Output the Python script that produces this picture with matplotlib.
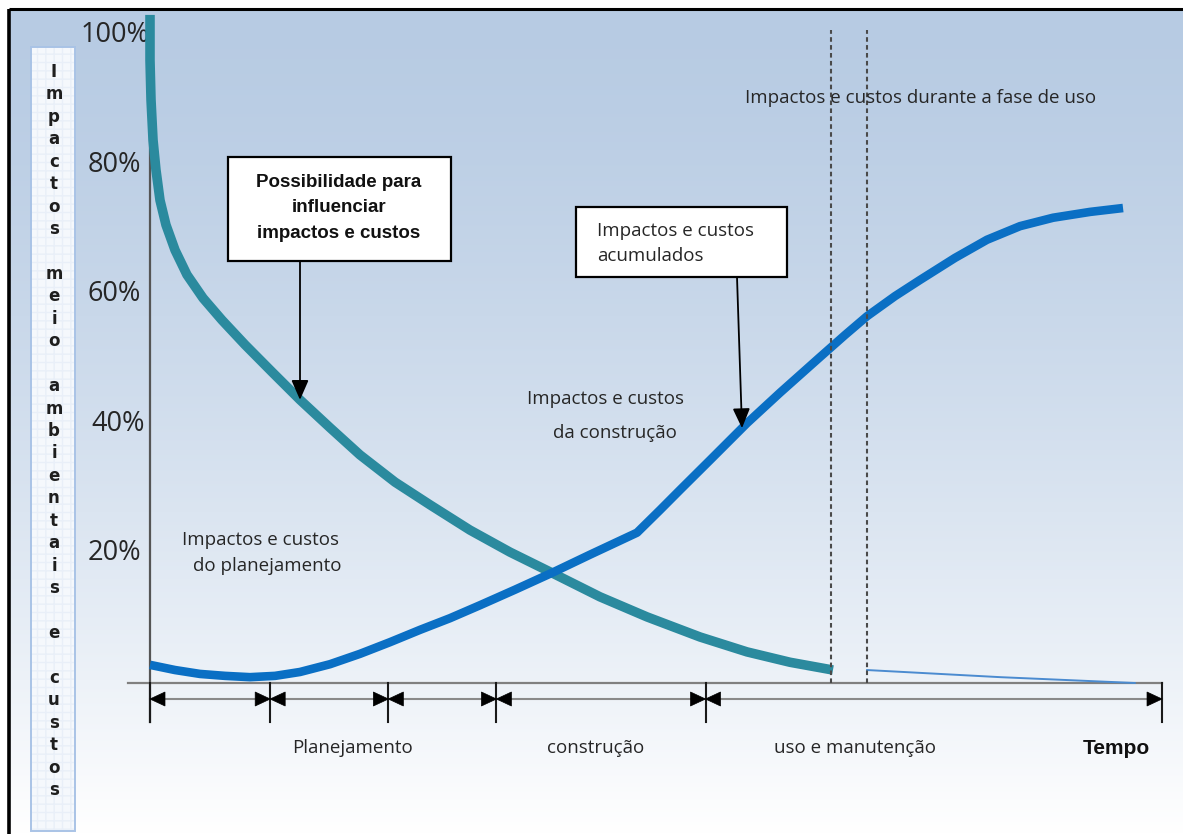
import numpy as np
import matplotlib
matplotlib.use("Agg")
import matplotlib.pyplot as plt
from matplotlib.patches import Rectangle, Polygon

# ---------------------------------------------------------------------------
# Data: time in arbitrary units (0 = start of planning), values in percent
# ---------------------------------------------------------------------------
influence_t = [0.000, 0.000, 0.010, 0.030, 0.059, 0.099, 0.158, 0.248, 0.366,
               0.525, 0.713, 0.941, 1.208, 1.485, 1.782, 2.079, 2.426, 2.772,
               3.168, 3.564, 3.980, 4.455, 4.921, 5.446, 5.911, 6.337, 6.762]
influence_pct = [103.1, 96.1, 90.0, 83.8, 79.2, 74.5, 70.7, 66.8, 63.0,
                 59.4, 56.0, 52.2, 48.0, 43.7, 39.4, 35.2, 31.0, 27.5,
                 23.6, 20.2, 17.0, 13.3, 10.2, 7.1, 4.8, 3.2, 2.0]

cumulative_t = [0.000, 0.248, 0.495, 0.743, 0.990, 1.238, 1.485, 1.782, 2.079,
                2.376, 2.673, 2.970, 3.267, 3.614, 3.980, 4.356, 4.822, 5.050,
                5.248, 5.545, 5.911, 6.238, 6.634, 6.881, 7.099, 7.376, 7.624,
                7.970, 8.287, 8.614, 8.941, 9.307, 9.634]
cumulative_pct = [2.8, 2.0, 1.4, 1.1, 0.9, 1.1, 1.7, 2.9, 4.5,
                  6.3, 8.2, 10.0, 12.0, 14.4, 17.0, 19.8, 23.2, 26.7,
                  29.8, 34.4, 40.1, 44.8, 50.3, 53.7, 56.6, 59.7, 62.2,
                  65.6, 68.4, 70.5, 71.8, 72.7, 73.3]

use_phase_t = [7.10, 8.42, 9.75]
use_phase_pct = [2.0, 0.9, 0.0]

phase_bounds = [0.0, 1.19, 2.36, 3.43, 5.50, 10.02]
use_phase_marks = [6.74, 7.10]

ytick_values = [100, 80, 60, 40, 20]
ytick_labels = ["100%", "80%", "60%", "40%", "20%"]

phase_labels = ["Planejamento", "construção", "uso e manutenção"]
phase_label_t = [2.00, 4.41, 6.98]

vertical_title = "Impactos meio ambientais e custos"

# ---------------------------------------------------------------------------
# Layout
# ---------------------------------------------------------------------------
W, H = 1183, 834
DPI = 100
X0_PX, PX_PER_T = 150, 101.0       # where t = 0 sits, pixels per time unit
Y0_PX, PX_PER_PCT = 683, 6.48      # baseline row, pixels per percent

TEAL = "#2b8a9e"
BLUE = "#0a6fc4"
TXT = "#262626"
FS = 13.5

fig = plt.figure(figsize=(W / DPI, H / DPI), dpi=DPI)

# background layer in pixel units
bg = fig.add_axes([0, 0, 1, 1])
bg.set_xlim(0, W)
bg.set_ylim(H, 0)
bg.axis("off")

# gradient panel: light blue at the top fading to white
rows = np.linspace(0, 1, 400) ** 1.4
top = np.array([183, 203, 227]) / 255.0
grad = top[None, :] * (1 - rows[:, None]) + rows[:, None]
bg.imshow(grad[:, None, :], extent=(9, W, H, 9), aspect="auto", zorder=0,
          interpolation="bilinear")
bg.plot([9, W], [9, 9], color="black", lw=2.2, zorder=1, solid_capstyle="butt")
bg.plot([9, 9], [9, H], color="black", lw=2.6, zorder=1, solid_capstyle="butt")

# vertical title column
bg.add_patch(Rectangle((31, 47), 44, 784, facecolor="#f5f8fc", edgecolor="#e9eff8",
                       hatch="++", lw=0, zorder=2))
bg.add_patch(Rectangle((31, 47), 44, 784, facecolor="none", edgecolor="#a9c3e6",
                       lw=1.4, zorder=3))
lines = []
for i, word in enumerate(vertical_title.split()):
    if i:
        lines.append("")
    lines.extend(list(word))
for i, ch in enumerate(lines):
    if ch:
        bg.text(54, 72 + i * 22.44, ch, ha="center", va="center", fontsize=12,
                fontweight="bold", family="DejaVu Sans", color="#1e1e1e", zorder=4)

# main data axes sharing the same canvas
ax = fig.add_axes([0, 0, 1, 1], facecolor="none")
ax.set_xlim(-X0_PX / PX_PER_T, (W - X0_PX) / PX_PER_T)
ax.set_ylim(-(H - Y0_PX) / PX_PER_PCT, Y0_PX / PX_PER_PCT)
ax.axis("off")


def dt(px):
    return px / PX_PER_T


def dp(px):
    return px / PX_PER_PCT


# axes lines
ax.plot([0, 0], [100, -dp(39)], color="#555555", lw=1.6, zorder=3)
ax.plot([-dt(22), phase_bounds[-1]], [0, 0], color="#808080", lw=1.6, zorder=3)

# phase timeline with arrowheads between boundaries
arrow_y = -dp(16)
ax.plot([phase_bounds[0], phase_bounds[-1]], [arrow_y, arrow_y], color="#8a8a8a",
        lw=1.5, zorder=3)
for b in phase_bounds:
    ax.plot([b, b], [0, -dp(39)], color="#1a1a1a", lw=1.5, zorder=4)
hl, hw = dt(15), dp(7)
for a, b in zip(phase_bounds[:-1], phase_bounds[1:]):
    ax.add_patch(Polygon([(a, arrow_y), (a + hl, arrow_y + hw), (a + hl, arrow_y - hw)],
                         closed=True, facecolor="black", edgecolor="black", lw=0.5, zorder=5))
    ax.add_patch(Polygon([(b, arrow_y), (b - hl, arrow_y + hw), (b - hl, arrow_y - hw)],
                         closed=True, facecolor="black", edgecolor="black", lw=0.5, zorder=5))

# curves
ax.plot(influence_t, influence_pct, color=TEAL, lw=6.9, solid_capstyle="butt",
        solid_joinstyle="round", zorder=6)
ax.plot(cumulative_t, cumulative_pct, color=BLUE, lw=6.2, solid_capstyle="butt",
        solid_joinstyle="round", zorder=7)
ax.plot(use_phase_t, use_phase_pct, color="#4b8bd0", lw=1.4, zorder=7)

# use-phase markers
for m in use_phase_marks:
    ax.plot([m, m], [0, dp(Y0_PX - 30)], color="#4a4a4a", lw=1.5,
            linestyle=(0, (2.2, 1.6)), zorder=8)

# y labels (the top one tucks under the start of the curve)
label_right = {"100%": 0, "40%": -5}
for v, lab in zip(ytick_values, ytick_labels):
    ax.text(dt(label_right.get(lab, -9)), v, lab, ha="right", va="center",
            fontsize=19.5, family="Open Sans", color=TXT, zorder=5)

# phase labels
for t, lab in zip(phase_label_t, phase_labels):
    ax.text(t, -dp(65), lab, ha="center", va="center", fontsize=FS,
            family="Open Sans", color=TXT, zorder=5)
ax.text(dt(1116 - X0_PX), -dp(65), "Tempo", ha="center", va="center", fontsize=15,
        fontweight="bold", family="Liberation Sans", color="#111111", zorder=5)

# free annotations (placed in pixel units of the background layer)
bg_kw = dict(fontsize=FS, family="Open Sans", color=TXT, va="center", ha="left",
             zorder=9)


def fig_text(x, y, s, **kw):
    return ax.text(x, y, s, transform=bg.transData, **kw)


fig_text(182, 540, "Impactos e custos", **bg_kw)
fig_text(193, 566, "do planejamento", **bg_kw)
fig_text(527, 399, "Impactos e custos", **bg_kw)
fig_text(553, 433, "da construção", **bg_kw)
fig_text(745, 98, "Impactos e custos durante a fase de uso", **bg_kw)

# callout boxes
ax.add_patch(Rectangle((228, 157), 223, 104, transform=bg.transData, facecolor="white",
                       edgecolor="black", lw=1.6, zorder=9))
for y, s in zip([182, 207, 233], ["Possibilidade para", "influenciar", "impactos e custos"]):
    fig_text(339, y, s, ha="center", va="center", fontsize=13.5, fontweight="bold",
             family="Liberation Sans", color="#111111", zorder=10)

ax.add_patch(Rectangle((576, 207), 211, 70, transform=bg.transData, facecolor="white",
                       edgecolor="black", lw=1.6, zorder=9))
for y, s in zip([231, 256], ["Impactos e custos", "acumulados"]):
    fig_text(597, y, s, **bg_kw)

# callout arrows ending on the curves
arrow_kw = dict(arrowstyle="-|>,head_length=0.8,head_width=0.35", color="black",
                lw=1.3, shrinkA=0, shrinkB=0, mutation_scale=15)
t1 = dt(300 - X0_PX)
ax.annotate("", xy=(t1, np.interp(t1, influence_t, influence_pct)),
            xytext=(300, 262), textcoords=bg.transData, arrowprops=arrow_kw, zorder=9)
t2 = dt(742 - X0_PX)
ax.annotate("", xy=(t2, np.interp(t2, cumulative_t, cumulative_pct)),
            xytext=(737, 277), textcoords=bg.transData, arrowprops=arrow_kw, zorder=9)

fig.savefig("out.png", dpi=DPI)
